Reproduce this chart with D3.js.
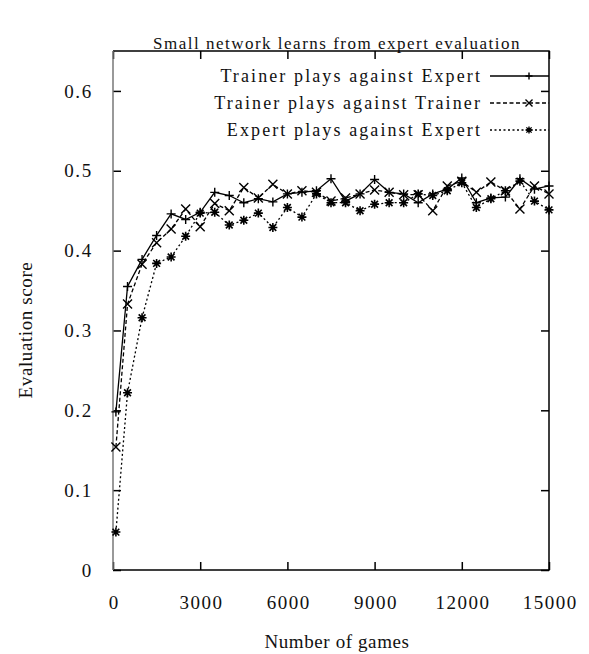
<!DOCTYPE html>
<html lang="en">
<head>
<meta charset="UTF-8">
<title>Small network learns from expert evaluation</title>
<style>
  body { margin: 0; background: #fff; }
  svg text { font-family: "Liberation Serif", "DejaVu Serif", serif; fill: #111; }
  .domain { display: none; }
  .tick line { stroke: #000; stroke-width: 1.5px; }
</style>
</head>
<body>
<svg id="chart" width="589" height="654"></svg>
<script src="https://d3js.org/d3.v7.min.js"></script>
<script>
// data
const games = [100, 500, 1000, 1500, 2000, 2500, 3000, 3500, 4000, 4500, 5000,
  5500, 6000, 6500, 7000, 7500, 8000, 8500, 9000, 9500, 10000,
  10500, 11000, 11500, 12000, 12500, 13000, 13500, 14000, 14500, 15000];

const trainerVsExpert = [0.198, 0.355, 0.389, 0.419, 0.446, 0.439, 0.448, 0.473, 0.469, 0.460, 0.465,
  0.461, 0.471, 0.473, 0.475, 0.490, 0.462, 0.471, 0.489, 0.473, 0.471,
  0.460, 0.471, 0.477, 0.491, 0.460, 0.466, 0.467, 0.490, 0.477, 0.481];

const trainerVsTrainer = [0.154, 0.333, 0.383, 0.410, 0.427, 0.452, 0.430, 0.459, 0.450, 0.479, 0.466,
  0.483, 0.471, 0.475, 0.473, 0.462, 0.466, 0.471, 0.476, 0.473, 0.470,
  0.470, 0.450, 0.481, 0.487, 0.473, 0.486, 0.475, 0.452, 0.481, 0.471];

const expertVsExpert = [0.0475, 0.222, 0.316, 0.384, 0.392, 0.418, 0.447, 0.448, 0.432, 0.438, 0.447,
  0.429, 0.454, 0.442, 0.471, 0.460, 0.460, 0.450, 0.458, 0.460, 0.460,
  0.471, 0.469, 0.475, 0.485, 0.454, 0.465, 0.475, 0.487, 0.462, 0.451];

const seriesNames = ["Trainer plays against Expert", "Trainer plays against Trainer", "Expert plays against Expert"];
const xTicks = [0, 3000, 6000, 9000, 12000, 15000];
const yTicks = [0, 0.1, 0.2, 0.3, 0.4, 0.5, 0.6];

const svg = d3.select("#chart");
const pl = 113, pr = 549, pt = 51, pb = 570;

const x = d3.scaleLinear().domain([0, 15000]).range([pl, pr]);
const y = d3.scaleLinear().domain([0, 0.65]).range([pb, pt]);

// title
svg.append("text")
  .attr("x", 337).attr("y", 49)
  .attr("text-anchor", "middle")
  .style("font-size", "17px")
  .style("letter-spacing", "1.5px")
  .text("Small network learns from expert evaluation");

// axes, ticks pointing inward and mirrored
const tick = 8;
svg.append("g").attr("transform", `translate(0,${pb})`)
  .call(d3.axisBottom(x).tickValues(xTicks).tickSize(-tick).tickPadding(26).tickFormat(d3.format("d")))
  .call(g => g.selectAll("text").style("font-size", "19px").style("letter-spacing", "1.5px").attr("dx", "0.8px").attr("font-family", null));
svg.append("g").attr("transform", `translate(0,${pt})`)
  .call(d3.axisTop(x).tickValues(xTicks).tickSize(-tick).tickFormat(""));
svg.append("g").attr("transform", `translate(${pl},0)`)
  .call(d3.axisLeft(y).tickValues(yTicks).tickSize(-tick).tickPadding(20).tickFormat(d => d === 0 ? "0" : d3.format(".1f")(d)))
  .call(g => g.selectAll("text").style("font-size", "19px").style("letter-spacing", "1.7px").attr("font-family", null));
svg.append("g").attr("transform", `translate(${pr},0)`)
  .call(d3.axisRight(y).tickValues(yTicks).tickSize(-tick).tickFormat(""));

// frame
svg.append("path")
  .attr("d", `M${pl},${pt}H${pr}V${pb}H${pl}`)
  .attr("fill", "none").attr("stroke", "#000").attr("stroke-width", 1.5);
svg.append("line").attr("x1", pl).attr("x2", pl).attr("y1", pt).attr("y2", pb)
  .attr("stroke", "#777").attr("stroke-width", 1.5);

// axis titles
svg.append("text")
  .attr("x", 337).attr("y", 648)
  .attr("text-anchor", "middle")
  .style("font-size", "19px")
  .style("letter-spacing", "0.6px")
  .text("Number of games");
svg.append("text")
  .attr("transform", "translate(32,330) rotate(-90)")
  .attr("text-anchor", "middle")
  .style("font-size", "19px")
  .style("letter-spacing", "0.6px")
  .text("Evaluation score");

// series
const series = [
  { name: seriesNames[0], values: trainerVsExpert, dash: null, marker: "plus" },
  { name: seriesNames[1], values: trainerVsTrainer, dash: "4,2.5", marker: "cross" },
  { name: seriesNames[2], values: expertVsExpert, dash: "2,2.5", marker: "star" }
];

function markerPath(type, s) {
  const h = s / 2;
  if (type === "plus") return `M${-h},0H${h}M0,${-h}V${h}`;
  if (type === "cross") return `M${-h},${-h}L${h},${h}M${-h},${h}L${h},${-h}`;
  return `M${-h},0H${h}M0,${-h}V${h}M${-h * 0.75},${-h * 0.75}L${h * 0.75},${h * 0.75}M${-h * 0.75},${h * 0.75}L${h * 0.75},${-h * 0.75}`;
}

const line = d3.line().x((d, i) => x(games[i])).y(d => y(d));

series.forEach(s => {
  svg.append("path")
    .datum(s.values)
    .attr("d", line)
    .attr("fill", "none")
    .attr("stroke", "#000")
    .attr("stroke-width", 1.3)
    .attr("stroke-dasharray", s.dash);
  svg.append("g").selectAll("path")
    .data(s.values)
    .join("path")
    .attr("transform", (d, i) => `translate(${x(games[i])},${y(d)})`)
    .attr("d", markerPath(s.marker, 9))
    .attr("stroke", "#000")
    .attr("stroke-width", s.marker === "star" ? 1.6 : 1.4)
    .attr("fill", "none");
});

// legend
const legendY = [76, 103, 130];
series.forEach((s, i) => {
  svg.append("text")
    .attr("x", 482).attr("y", legendY[i])
    .attr("dy", "0.35em")
    .attr("text-anchor", "end")
    .style("font-size", "18px")
    .style("letter-spacing", "2.1px")
    .text(s.name);
  svg.append("line")
    .attr("x1", 490).attr("x2", pr)
    .attr("y1", legendY[i]).attr("y2", legendY[i])
    .attr("stroke", "#000").attr("stroke-width", 1.3)
    .attr("stroke-dasharray", s.dash);
  svg.append("path")
    .attr("transform", `translate(529,${legendY[i]})`)
    .attr("d", markerPath(s.marker, 7))
    .attr("stroke", "#000").attr("stroke-width", 1.4).attr("fill", "none");
});
</script>
</body>
</html>
